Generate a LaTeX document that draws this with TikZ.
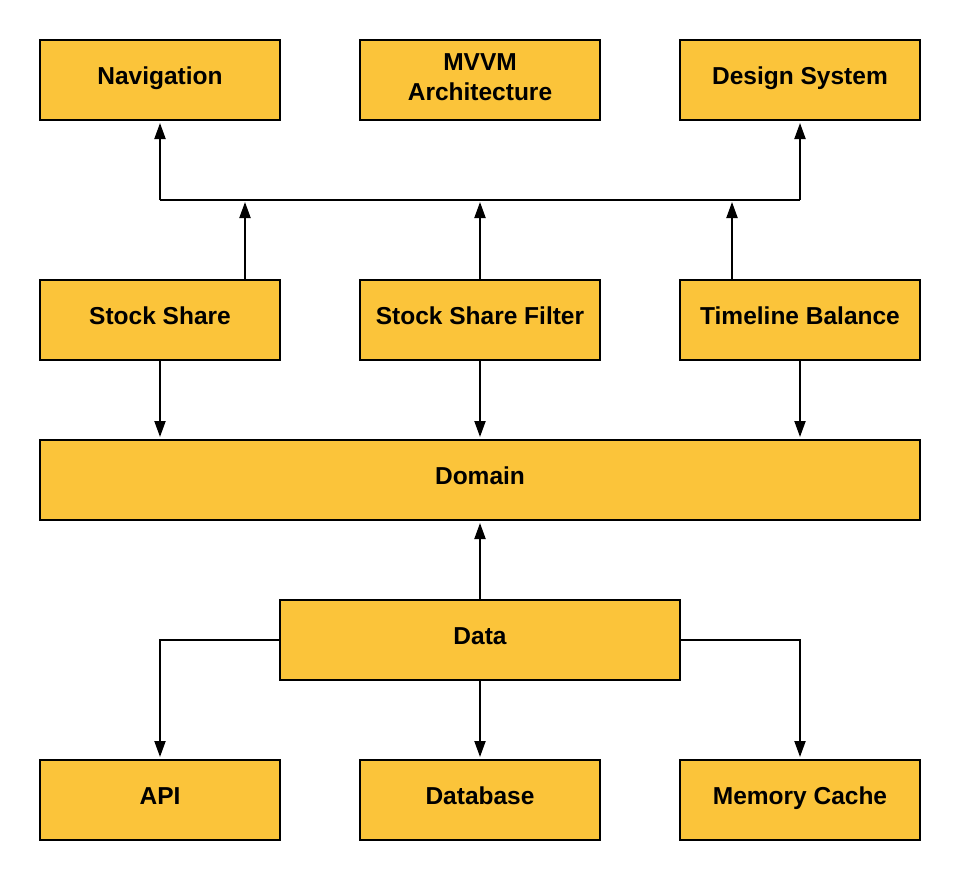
\documentclass[tikz,border=0pt]{standalone}
\usepackage{fontspec}
\setmainfont{Liberation Sans}
\usetikzlibrary{arrows.meta}
\definecolor{boxfill}{HTML}{FBC43A}
\begin{document}
\begin{tikzpicture}[x=1pt,y=-1pt,
  box/.style={draw=black,line width=2pt,fill=boxfill,minimum width=240pt,minimum height=80pt,
    align=center,inner sep=0pt,font=\fontsize{24.5}{29.5}\selectfont\bfseries},
  one/.style={text height=18pt,text depth=8.4pt},
  arr/.style={line width=2pt,-{Triangle[length=16pt,width=11pt]},shorten >=2pt},
  ln/.style={line width=2pt}]
\useasboundingbox[fill=white] (0,0) rectangle (960,880);
\node[box,one] (nav) at (160,80) {Navigation};
\node[box] (mvvm) at (480,80) {MVVM\\Architecture\rule[-6pt]{0pt}{0pt}};
\node[box,one] (ds) at (800,80) {Design System};
\node[box,one] (ss) at (160,320) {Stock Share};
\node[box,one] (ssf) at (480,320) {Stock Share Filter};
\node[box,one] (tb) at (800,320) {Timeline Balance};
\node[box,one,minimum width=880pt] (dom) at (480,480) {Domain};
\node[box,one,minimum width=400pt] (data) at (480,640) {Data};
\node[box,one] (api) at (160,800) {API};
\node[box,one] (db) at (480,800) {Database};
\node[box,one] (mem) at (800,800) {Memory Cache};
\coordinate (jL) at (160,200);
\coordinate (jR) at (800,200);
\draw[ln] (jL) -- (jR);
\draw[arr] (jL) -- (nav.south);
\draw[arr] (jR) -- (ds.south);
\draw[arr] ([xshift=85pt]ss.north) -- ([xshift=85pt]ss.north |- jL);
\draw[arr] (ssf.north) -- (ssf.north |- jL);
\draw[arr] ([xshift=-68pt]tb.north) -- ([xshift=-68pt]tb.north |- jL);
\draw[arr] (ss.south) -- (ss.south |- dom.north);
\draw[arr] (ssf.south) -- (ssf.south |- dom.north);
\draw[arr] (tb.south) -- (tb.south |- dom.north);
\draw[arr] (data.north) -- (dom.south);
\draw[arr] (data.west) -| (api.north);
\draw[arr] (data.south) -- (db.north);
\draw[arr] (data.east) -| (mem.north);
\end{tikzpicture}
\end{document}
